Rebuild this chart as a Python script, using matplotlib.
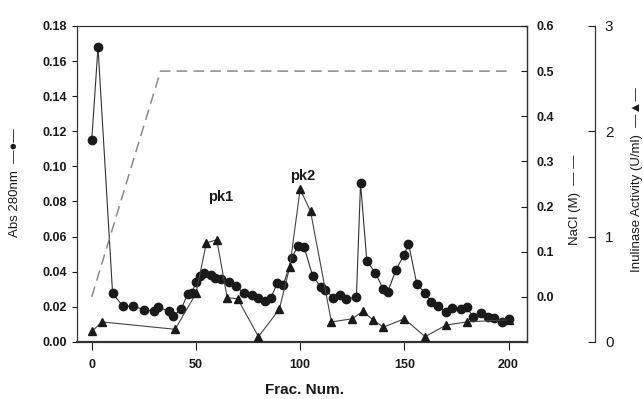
import matplotlib.pyplot as plt
import numpy as np

plt.rcParams['font.family'] = ['Liberation Sans', 'DejaVu Sans']

# Abs 280nm (left axis)
frac_abs = [0, 3, 10, 15, 20, 25, 30, 32, 37, 39, 43, 46, 48, 50, 52, 54, 57, 59, 62, 66,
            69, 73, 77, 80, 83, 86, 89, 92, 96, 99, 102, 106, 110, 112, 116, 119, 122, 127,
            129, 132, 136, 140, 142, 146, 150, 152, 156, 160, 163, 166, 170, 173, 177, 180,
            183, 187, 190, 193, 197, 200]
abs280 = [0.115, 0.168, 0.0277, 0.0203, 0.0203, 0.0184, 0.0176, 0.0199, 0.0174, 0.0145,
          0.0189, 0.0271, 0.0277, 0.034, 0.0378, 0.0391, 0.0384, 0.0365, 0.036, 0.034,
          0.0321, 0.0277, 0.0267, 0.0248, 0.0235, 0.0253, 0.0333, 0.0326, 0.0478, 0.0548,
          0.0538, 0.0376, 0.0313, 0.0294, 0.0252, 0.0265, 0.0245, 0.0255, 0.0905, 0.0461,
          0.0395, 0.0299, 0.0283, 0.0412, 0.0498, 0.056, 0.0331, 0.0277, 0.0226, 0.0206,
          0.0169, 0.0193, 0.0187, 0.0197, 0.0143, 0.0163, 0.014, 0.0134, 0.0114, 0.0128]

# Inulinase activity (third axis)
frac_inu = [0, 5, 40, 50, 55, 60, 65, 70, 80, 90, 95, 100, 105, 115, 125, 130, 135, 140,
            150, 160, 170, 180, 200]
inulinase = [0.10, 0.19, 0.12, 0.46, 0.94, 0.97, 0.42, 0.41, 0.05, 0.31, 0.71, 1.45, 1.24,
             0.19, 0.22, 0.29, 0.21, 0.14, 0.22, 0.05, 0.16, 0.19, 0.21]

# NaCl gradient (right axis)
frac_nacl = [0, 33, 200]
nacl = [0.0, 0.5, 0.5]

abs_ticks = np.arange(0, 0.181, 0.02)
nacl_ticks = [0.0, 0.1, 0.2, 0.3, 0.4, 0.5, 0.6]
inu_ticks = [0, 1, 2, 3]

ink = '#1a1a1a'

fig = plt.figure(figsize=(6.43, 3.99), dpi=100)
ax = fig.add_axes([0.12, 0.143, 0.70, 0.792])

ax.plot(frac_abs, abs280, '-o', color='#333333', lw=0.8, ms=6, mfc=ink, mec=ink, zorder=3)
ax.set_xlim(-7, 209)
ax.set_ylim(0, 0.18)
ax.set_xticks([0, 50, 100, 150, 200])
ax.set_yticks(abs_ticks)
ax.set_yticklabels(['%.2f' % v for v in abs_ticks])
ax.tick_params(axis='x', length=6, pad=6, labelsize=9, colors=ink)
ax.tick_params(axis='y', length=3.5, pad=4, labelsize=9, colors=ink)
for lab in ax.get_xticklabels() + ax.get_yticklabels():
    lab.set_fontweight('bold')
for s in ax.spines.values():
    s.set_color('#333333')
    s.set_linewidth(0.9)
ax.spines['bottom'].set_linewidth(1.6)

ax.text(62, 0.0826, 'pk1', ha='center', va='center', fontsize=10.5, fontweight='bold', color=ink)
ax.text(101, 0.0948, 'pk2', ha='center', va='center', fontsize=10.5, fontweight='bold', color=ink)

ax2 = ax.twinx()
ax2.plot(frac_nacl, nacl, color='#8a8a8a', lw=1.1, dashes=(7, 4))
ax2.set_ylim(-0.1, 0.6)
ax2.set_yticks(nacl_ticks)
ax2.set_yticklabels(['%.1f' % v for v in nacl_ticks], fontweight='bold')
ax2.tick_params(axis='y', direction='in', length=4, pad=7, labelsize=9, colors=ink)
for k in ['top', 'left', 'bottom']:
    ax2.spines[k].set_visible(False)
ax2.spines['right'].set_color('#333333')
ax2.spines['right'].set_linewidth(0.9)

ax3 = ax.twinx()
ax3.plot(frac_inu, inulinase, '-^', color='#444444', lw=0.8, ms=6, mfc=ink, mec=ink, zorder=4)
ax3.set_ylim(0, 3)
ax3.set_yticks(inu_ticks)
ax3.set_yticklabels([str(v) for v in inu_ticks], fontweight='bold')
ax3.spines['right'].set_position(('axes', 1.151))
ax3.spines['right'].set_bounds(0, 3)
ax3.spines['right'].set_color('#333333')
ax3.spines['right'].set_linewidth(0.9)
for k in ['top', 'left', 'bottom']:
    ax3.spines[k].set_visible(False)
ax3.tick_params(axis='y', direction='in', length=5, pad=7, labelsize=11, colors=ink)

fig.text(0.023, 0.541, 'Abs 280nm  \u2014\u25cf\u2014', rotation=90, ha='center', va='center',
         fontsize=9.5, color=ink)
fig.text(0.894, 0.50, 'NaCl (M)  \u2014 \u2014', rotation=90, ha='center', va='center',
         fontsize=9.5, color=ink)
fig.text(0.991, 0.55, 'Inulinase Activity (U/ml)  \u2014\u25b2\u2014', rotation=90, ha='center',
         va='center', fontsize=9.5, color=ink)
fig.text(0.474, 0.022, 'Frac. Num.', ha='center', va='center', fontsize=11,
         fontweight='bold', color=ink)

fig.savefig('out.png', dpi=100)
